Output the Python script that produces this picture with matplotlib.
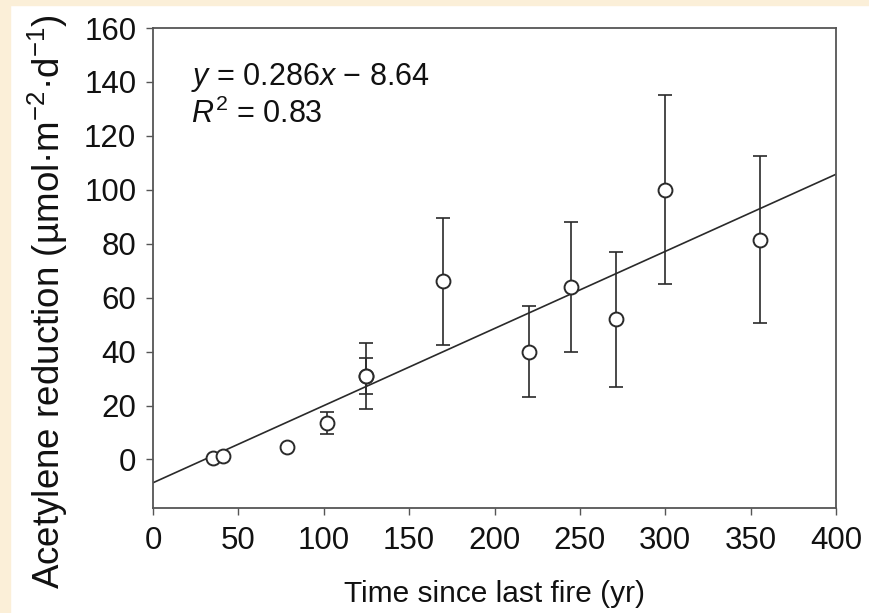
import numpy as np
import matplotlib
matplotlib.use("Agg")
import matplotlib.pyplot as plt
from matplotlib.patches import Rectangle

plt.rcParams['font.family'] = ['Liberation Sans', 'DejaVu Sans']
plt.rcParams['mathtext.fontset'] = 'custom'
plt.rcParams['mathtext.rm'] = 'Liberation Sans'
plt.rcParams['mathtext.it'] = 'Liberation Sans:italic'

# time since last fire (yr) and acetylene reduction, with error
years = np.array([35, 41, 78.5, 102, 124.5, 125, 170, 220, 245, 271, 300, 355.5])
reduction = np.array([0.4, 1.1, 4.8, 13.5, 31, 31, 66, 40, 64, 52, 100, 81.5])
err = np.array([0, 0, 0, 4.2, 12.2, 6.8, 23.5, 17, 24, 25, 35, 31])

# regression
slope = 0.286
intercept = -8.64
r2 = 0.83

xticks = [0, 50, 100, 150, 200, 250, 300, 350, 400]
yticks = [0, 20, 40, 60, 80, 100, 120, 140, 160]

ink = "#2a2a2a"
txt = "#111111"
fig = plt.figure(figsize=(8.69, 6.13), dpi=100)
fig.patch.set_facecolor("white")
fig.patches.append(Rectangle((0, 0), 10 / 869, 1, transform=fig.transFigure,
                             color="#fbefd8", zorder=-1))
fig.patches.append(Rectangle((0, 1 - 5 / 613), 1, 5 / 613, transform=fig.transFigure,
                             color="#fbefd8", zorder=-1))

ax = fig.add_axes([153 / 869, 1 - 508 / 613, (836 - 153) / 869, (508 - 28) / 613])

xl = np.array([0, 400])
ax.plot(xl, slope * xl + intercept, color=ink, lw=1.2, zorder=2)

m = err > 0
ax.errorbar(years[m], reduction[m], yerr=err[m], fmt="none", ecolor=ink,
            elinewidth=1.2, capsize=5, capthick=1.2, zorder=3)
ax.plot(years, reduction, "o", ms=10, mfc="white", mec=ink, mew=1.4, zorder=4)

ax.set_xlim(0, 400)
ax.set_ylim(-18, 160)
ax.set_xticks(xticks)
ax.set_yticks(yticks)
for s in ax.spines.values():
    s.set_color("#555555")
    s.set_linewidth(1.3)
ax.tick_params(direction="out", length=5, width=1, colors="#555555",
               labelcolor=txt, labelsize=22.5)
ax.tick_params(axis="x", pad=8)
ax.tick_params(axis="y", pad=7)

ax.set_xlabel("Time since last fire (yr)", fontsize=21.5, color=txt, labelpad=17)
fig.text(48 / 869, 1 - 302 / 613, "Acetylene reduction (µmol·m$^{-2}$·d$^{-1}$)",
         rotation=90, fontsize=26.5, color=txt, ha="center", va="center")

ax.text(0.055, 0.881, "$y$ = %.3f$x$ − %.2f" % (slope, -intercept), transform=ax.transAxes,
        fontsize=22, color=txt, va="baseline")
ax.text(0.055, 0.802, "$R^{2}$ = %.2f" % r2, transform=ax.transAxes,
        fontsize=22, color=txt, va="baseline")

fig.savefig("out.png", dpi=100)
